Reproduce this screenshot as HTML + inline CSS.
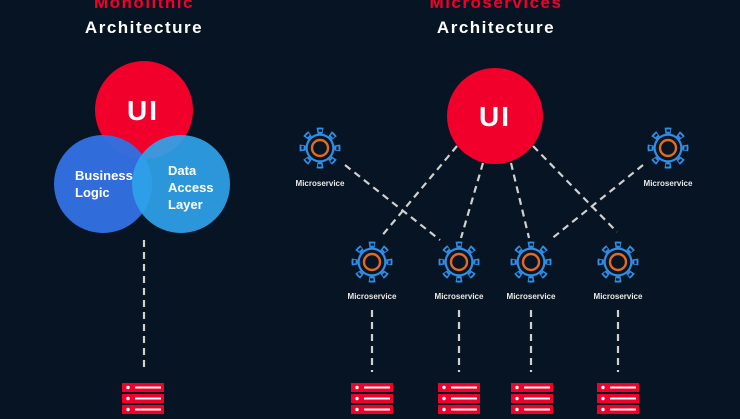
<!DOCTYPE html>
<html><head><style>
body{margin:0;width:740px;height:414px;overflow:hidden;background:#071423;font-family:"Liberation Sans",sans-serif}
</style></head><body>
<svg width="740" height="414" viewBox="0 0 740 414" xmlns="http://www.w3.org/2000/svg">
<defs>
<g id="gear">
  <circle r="17.5" fill="none" stroke="#2f8fe6" stroke-width="6" stroke-dasharray="6 7.74" transform="rotate(-10)"/>
  <circle r="14.5" fill="#2f8fe6"/>
  <circle r="12.3" fill="#071423"/>
  <circle r="17.5" fill="none" stroke="#071423" stroke-width="2.2" stroke-dasharray="3.6 10.14" transform="rotate(-5)"/>
  <circle r="8" fill="none" stroke="#e06a20" stroke-width="2.4"/>
</g>
<g id="srv">
  <rect x="0" y="0" width="42" height="9" fill="#f0002a"/>
  <rect x="0" y="11" width="42" height="9" fill="#f0002a"/>
  <rect x="0" y="22" width="42" height="9" fill="#f0002a"/>
  <circle cx="6" cy="4.5" r="1.7" fill="#fff"/><rect x="13" y="3.5" width="26" height="2" fill="#fff"/>
  <circle cx="6" cy="15.5" r="1.7" fill="#fff"/><rect x="13" y="14.5" width="26" height="2" fill="#fff"/>
  <circle cx="6" cy="26.5" r="1.7" fill="#fff"/><rect x="13" y="25.5" width="26" height="2" fill="#fff"/>
</g>
</defs>
<g font-family="Liberation Sans, sans-serif" font-weight="bold" text-anchor="middle">
<text x="144" y="8" font-size="17" fill="#f0002a" letter-spacing="1.5">Monolithic</text>
<text x="144" y="33" font-size="17" fill="#fff" letter-spacing="1.5">Architecture</text>
<text x="496" y="8" font-size="17" fill="#f0002a" letter-spacing="1.5">Microservices</text>
<text x="496" y="33" font-size="17" fill="#fff" letter-spacing="1.5">Architecture</text>
</g>
<!-- monolith -->
<circle cx="144" cy="110" r="49" fill="#f0002a"/>
<circle cx="103" cy="184" r="49" fill="#3270e0" opacity="0.97"/>
<circle cx="181" cy="184" r="49" fill="#2fa3ea" opacity="0.92"/>
<g font-weight="bold" fill="#fff">
<text x="143" y="120" font-size="28" text-anchor="middle" letter-spacing="2">UI</text>
<text x="75" y="180" font-size="13">Business</text>
<text x="75" y="197" font-size="13">Logic</text>
<text x="168" y="175" font-size="13">Data</text>
<text x="168" y="192" font-size="13">Access</text>
<text x="168" y="209" font-size="13">Layer</text>
</g>
<g stroke="#d0d0d0" stroke-width="2.2" stroke-dasharray="7 5" fill="none">
<line x1="144" y1="240" x2="144" y2="372"/>
<line x1="457" y1="146" x2="380" y2="238"/>
<line x1="483" y1="163" x2="461" y2="238"/>
<line x1="511" y1="163" x2="529" y2="238"/>
<line x1="533" y1="146" x2="617" y2="232"/>
<line x1="643" y1="165" x2="550" y2="240"/>
<line x1="345" y1="165" x2="440" y2="240"/>
<line x1="372" y1="310" x2="372" y2="372"/>
<line x1="459" y1="310" x2="459" y2="372"/>
<line x1="531" y1="310" x2="531" y2="372"/>
<line x1="618" y1="310" x2="618" y2="372"/>
</g>
<circle cx="495" cy="116" r="48" fill="#f0002a"/>
<text x="495" y="126" font-size="28" font-weight="bold" fill="#fff" text-anchor="middle" letter-spacing="2">UI</text>
<use href="#gear" x="320" y="148"/>
<use href="#gear" x="668" y="148"/>
<use href="#gear" x="372" y="262"/>
<use href="#gear" x="459" y="262"/>
<use href="#gear" x="531" y="262"/>
<use href="#gear" x="618" y="262"/>
<g font-size="8" fill="#e8e8e8" text-anchor="middle" font-weight="bold">
<text x="320" y="186">Microservice</text>
<text x="668" y="186">Microservice</text>
<text x="372" y="299">Microservice</text>
<text x="459" y="299">Microservice</text>
<text x="531" y="299">Microservice</text>
<text x="618" y="299">Microservice</text>
</g>
<use href="#srv" x="122" y="383"/>
<use href="#srv" x="351" y="383"/>
<use href="#srv" x="438" y="383"/>
<use href="#srv" x="511" y="383"/>
<use href="#srv" x="597" y="383"/>
</svg>
</body></html>
